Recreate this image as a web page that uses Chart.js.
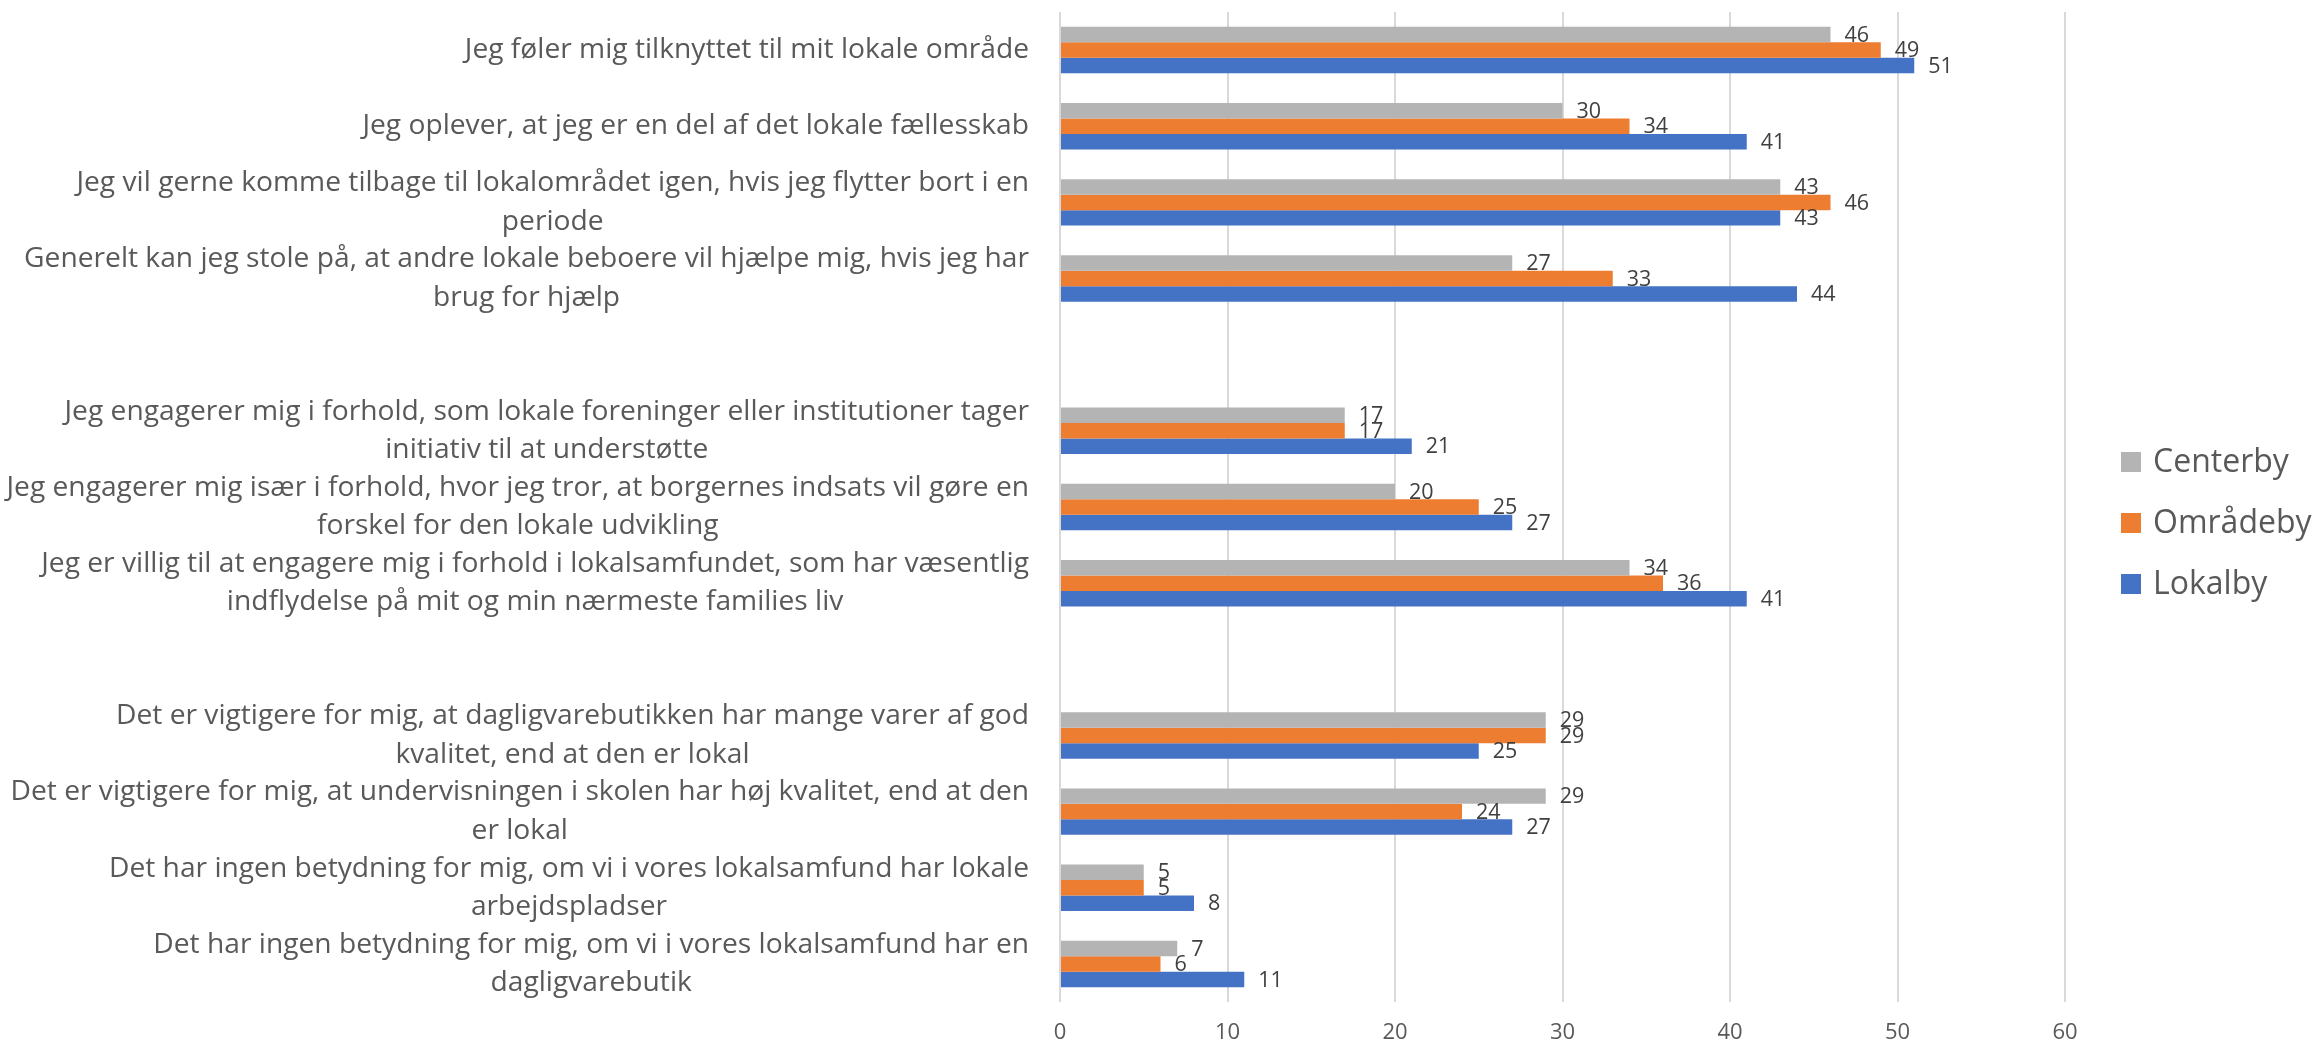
<!DOCTYPE html>
<html lang="da">
<head>
<meta charset="utf-8">
<title>Lokal tilknytning</title>
<script src="https://cdn.jsdelivr.net/npm/chart.js@4.4.1/dist/chart.umd.min.js"></script>
<style>
  html, body { margin: 0; padding: 0; background: #fff; }
  #chart { display: block; }
</style>
</head>
<body>
<canvas id="chart" width="2321" height="1045"></canvas>
<script>
// ------------------ data ------------------
const categories = [
  ['Jeg føler mig tilknyttet til mit lokale område'],
  ['Jeg oplever, at jeg er en del af det lokale fællesskab'],
  ['Jeg vil gerne komme tilbage til lokalområdet igen, hvis jeg flytter bort i en', 'periode'],
  ['Generelt kan jeg stole på, at andre lokale beboere vil hjælpe mig, hvis jeg har', 'brug for hjælp'],
  [''],
  ['Jeg engagerer mig i forhold, som lokale foreninger eller institutioner tager', 'initiativ til at understøtte'],
  ['Jeg engagerer mig især i forhold, hvor jeg tror, at borgernes indsats vil gøre en', 'forskel for den lokale udvikling'],
  ['Jeg er villig til at engagere mig i forhold i lokalsamfundet, som har væsentlig', 'indflydelse på mit og min nærmeste families liv'],
  [''],
  ['Det er vigtigere for mig, at dagligvarebutikken har mange varer af god', 'kvalitet, end at den er lokal'],
  ['Det er vigtigere for mig, at undervisningen i skolen har høj kvalitet, end at den', 'er lokal'],
  ['Det har ingen betydning for mig, om vi i vores lokalsamfund har lokale', 'arbejdspladser'],
  ['Det har ingen betydning for mig, om vi i vores lokalsamfund har en', 'dagligvarebutik']
];

const centerby  = [46, 30, 43, 27, null, 17, 20, 34, null, 29, 29, 5, 7];
const omraadeby = [49, 34, 46, 33, null, 17, 25, 36, null, 29, 24, 5, 6];
const lokalby   = [51, 41, 43, 44, null, 21, 27, 41, null, 25, 27, 8, 11];

const seriesNames = ['Centerby', 'Områdeby', 'Lokalby'];
const xTicks = [0, 10, 20, 30, 40, 50, 60];

const colors = ['#B4B4B4', '#ED7D31', '#4472C4'];
const FONT = '"Open Sans", Lato, sans-serif';

// ------------------ category labels (right aligned block, lines centred) ------------------
const categoryLabels = {
  id: 'categoryLabels',
  afterDraw(chart) {
    const { ctx, chartArea, scales } = chart;
    const right = chartArea.left - 31;
    const lineH = 38.5;
    ctx.save();
    // size the font so a short and a long label together are as wide as in the original
    ctx.font = '100px ' + FONT;
    const w = ctx.measureText(categories[0][0]).width + ctx.measureText(categories[6][0]).width;
    const size = 100 * (569 + 1017) / w;
    ctx.font = size.toFixed(1) + 'px ' + FONT;
    ctx.fillStyle = '#595959';
    ctx.textAlign = 'center';
    ctx.textBaseline = 'middle';
    categories.forEach((lines, i) => {
      const widest = Math.max(...lines.map(l => ctx.measureText(l).width));
      const cx = right - widest / 2;
      const cy = scales.y.getPixelForValue(i);
      const top = cy - (lines.length - 1) * lineH / 2;
      lines.forEach((l, k) => ctx.fillText(l, cx, top + k * lineH));
    });
    ctx.restore();
  }
};

// ------------------ value labels next to each bar ------------------
const valueLabels = {
  id: 'valueLabels',
  afterDatasetsDraw(chart) {
    const { ctx } = chart;
    ctx.save();
    ctx.font = '21.5px ' + FONT;
    ctx.fillStyle = '#404040';
    ctx.textAlign = 'left';
    ctx.textBaseline = 'middle';
    chart.data.datasets.forEach((ds, d) => {
      chart.getDatasetMeta(d).data.forEach((bar, i) => {
        const v = ds.data[i];
        if (v === null) return;
        ctx.fillText(String(v), bar.x + 14, bar.y + 1);
      });
    });
    ctx.restore();
  }
};

// ------------------ legend on the right ------------------
const sideLegend = {
  id: 'sideLegend',
  afterDraw(chart) {
    const { ctx } = chart;
    ctx.save();
    ctx.font = '32px ' + FONT;
    ctx.textBaseline = 'middle';
    ctx.textAlign = 'left';
    seriesNames.forEach((name, i) => {
      const cy = 462 + i * 61;
      ctx.fillStyle = colors[i];
      ctx.fillRect(2121, cy - 10, 20, 20);
      ctx.fillStyle = '#595959';
      ctx.fillText(name, 2153, cy + 1);
    });
    ctx.restore();
  }
};

const ctx = document.getElementById('chart').getContext('2d');
const chart = new Chart(ctx, {
  type: 'bar',
  data: {
    labels: categories.map((c, i) => i),
    datasets: [centerby, omraadeby, lokalby].map((values, i) => ({
      label: seriesNames[i],
      data: values,
      backgroundColor: colors[i],
      categoryPercentage: 0.61,
      barPercentage: 1
    }))
  },
  options: {
    indexAxis: 'y',
    responsive: false,
    animation: false,
    devicePixelRatio: 1,
    layout: {
      padding: { left: 1060, right: 256, top: 12, bottom: 0 }
    },
    plugins: {
      legend: { display: false },
      tooltip: { enabled: false }
    },
    scales: {
      x: {
        min: 0,
        max: 60,
        afterBuildTicks(axis) {
          axis.ticks = xTicks.map(v => ({ value: v }));
        },
        afterFit(axis) {
          axis.height = 43;
        },
        border: { display: false },
        grid: { color: '#D9D9D9', lineWidth: 2, drawTicks: false },
        ticks: {
          padding: 18,
          color: '#595959',
          font: { family: FONT, size: 22, lineHeight: 1.2 }
        }
      },
      y: {
        display: false
      }
    }
  },
  plugins: [categoryLabels, valueLabels, sideLegend]
});
</script>
</body>
</html>
